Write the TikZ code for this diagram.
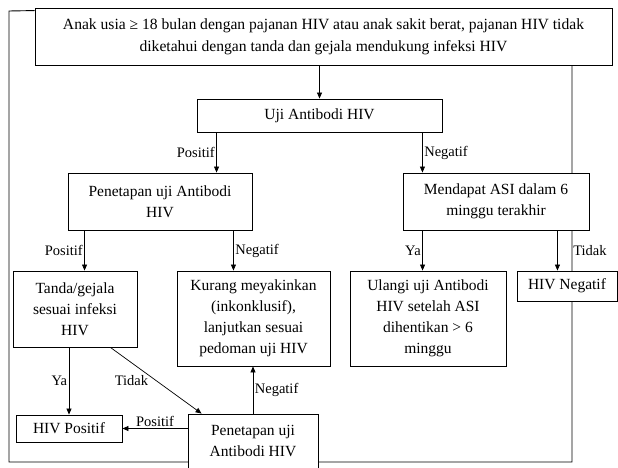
\documentclass[tikz,border=0pt]{standalone}
\usepackage{fontspec}
\setmainfont{Liberation Serif}
\usepackage{tikz}
\usetikzlibrary{arrows.meta}
\usetikzlibrary{backgrounds}
\tikzstyle{box}=[draw,line width=.9pt,fill=white,align=center,inner sep=0pt,font=\fontsize{15.5}{21}\selectfont]
\tikzstyle{lbl}=[font=\fontsize{14.5}{17}\selectfont,inner sep=1.5pt]
\tikzstyle{flowhead}=[>/.tip={Triangle[length=6pt,width=5pt]}]
\tikzstyle{flow}=[line width=.7pt,flowhead,->]
\tikzstyle{frame}=[line width=.9pt]

\begin{document}
\begin{tikzpicture}[x=1pt,y=-1pt]
	\useasboundingbox (0,0) rectangle (618,468);
	\node[box,minimum width=577pt,minimum height=57pt,font=\fontsize{15.6}{22}\selectfont] (start) at (323.5,36.5)
	  {Anak usia ≥ 18 bulan dengan pajanan HIV atau anak sakit berat, pajanan HIV tidak\\diketahui dengan tanda dan gejala mendukung infeksi HIV};
	\node[box,minimum width=245pt,minimum height=33pt] (uji)    at (319.5,115.5) {Uji Antibodi HIV};
	\node[box,minimum width=184pt,minimum height=57pt] (tetap)  at (160,201.5)   {Penetapan uji Antibodi\\HIV};
	\node[box,minimum width=186pt,minimum height=57pt] (asi)    at (496,201.5)   {Mendapat ASI dalam 6\\minggu terakhir};
	\node[box,minimum width=124pt,minimum height=76pt] (tanda)  at (75,309)      {Tanda/gejala\\sesuai infeksi\\HIV};
	\node[box,minimum width=153pt,minimum height=95pt] (ragu)   at (253.5,318.5) {Kurang meyakinkan\\(inkonklusif),\\lanjutkan sesuai\\pedoman uji HIV};
	\node[box,minimum width=156pt,minimum height=95pt] (ulang)  at (428,318.5)   {Ulangi uji Antibodi\\HIV setelah ASI\\dihentikan > 6\\minggu};
	\node[box,minimum width=100pt,minimum height=30pt] (neg)    at (567,286)     {HIV Negatif};
	\node[box,minimum width=106pt,minimum height=27pt] (pos)    at (69,428.5)    {HIV Positif};
	\node[box,minimum width=130pt,minimum height=54pt] (tetap2) at (253,441)     {Penetapan uji\\Antibodi HIV};
	\coordinate (ltop) at (9,11);
	\coordinate (lbot) at (9,462);
	\coordinate (rbot) at (572,462);
	\draw[flow] (uji.north |- start.south) -- (uji.north);
	\draw[flow] ([xshift=20pt]uji.south west)   --node[lbl,left] {Positif} ([xshift=20pt]uji.south west |- tetap.north);
	\draw[flow] ([xshift=-20pt]uji.south east)  --node[lbl,right]{Negatif} ([xshift=-20pt]uji.south east |- asi.north);
	\draw[flow] ([xshift=17pt]tetap.south west) --node[lbl,left] {Positif} ([xshift=17pt]tetap.south west |- tanda.north);
	\draw[flow] ([xshift=-19pt]tetap.south east)--node[lbl,right]{Negatif} ([xshift=-19pt]tetap.south east |- ragu.north);
	\draw[flow] ([xshift=20pt]asi.south west)   --node[lbl,left] {Ya}      ([xshift=20pt]asi.south west |- ulang.north);
	\draw[flow] ([xshift=-32pt]asi.south east)  --node[lbl,right=14pt]{Tidak} ([xshift=-32pt]asi.south east |- neg.north);
	\draw[flow] (pos.north |- tanda.south)      --node[lbl,left] {Ya}      (pos.north);
	\draw[flow] ([xshift=-27pt]tanda.south east)--node[lbl,left=6pt]{Tidak} ([xshift=14pt]tetap2.north west);
	\draw[flow] (pos.east -| tetap2.west)       --node[lbl,above]{Positif} (pos.east);
	\draw[flow] (tetap2.north)                  --node[lbl,right]{Negatif} (tetap2.north |- ragu.south);
	\begin{scope}[on background layer]
	\draw[frame] ([yshift=-3pt]start.north west) -- (ltop) -- (lbot) -- (rbot) -- (rbot |- start.south);
	\end{scope}
\end{tikzpicture}
\end{document}
